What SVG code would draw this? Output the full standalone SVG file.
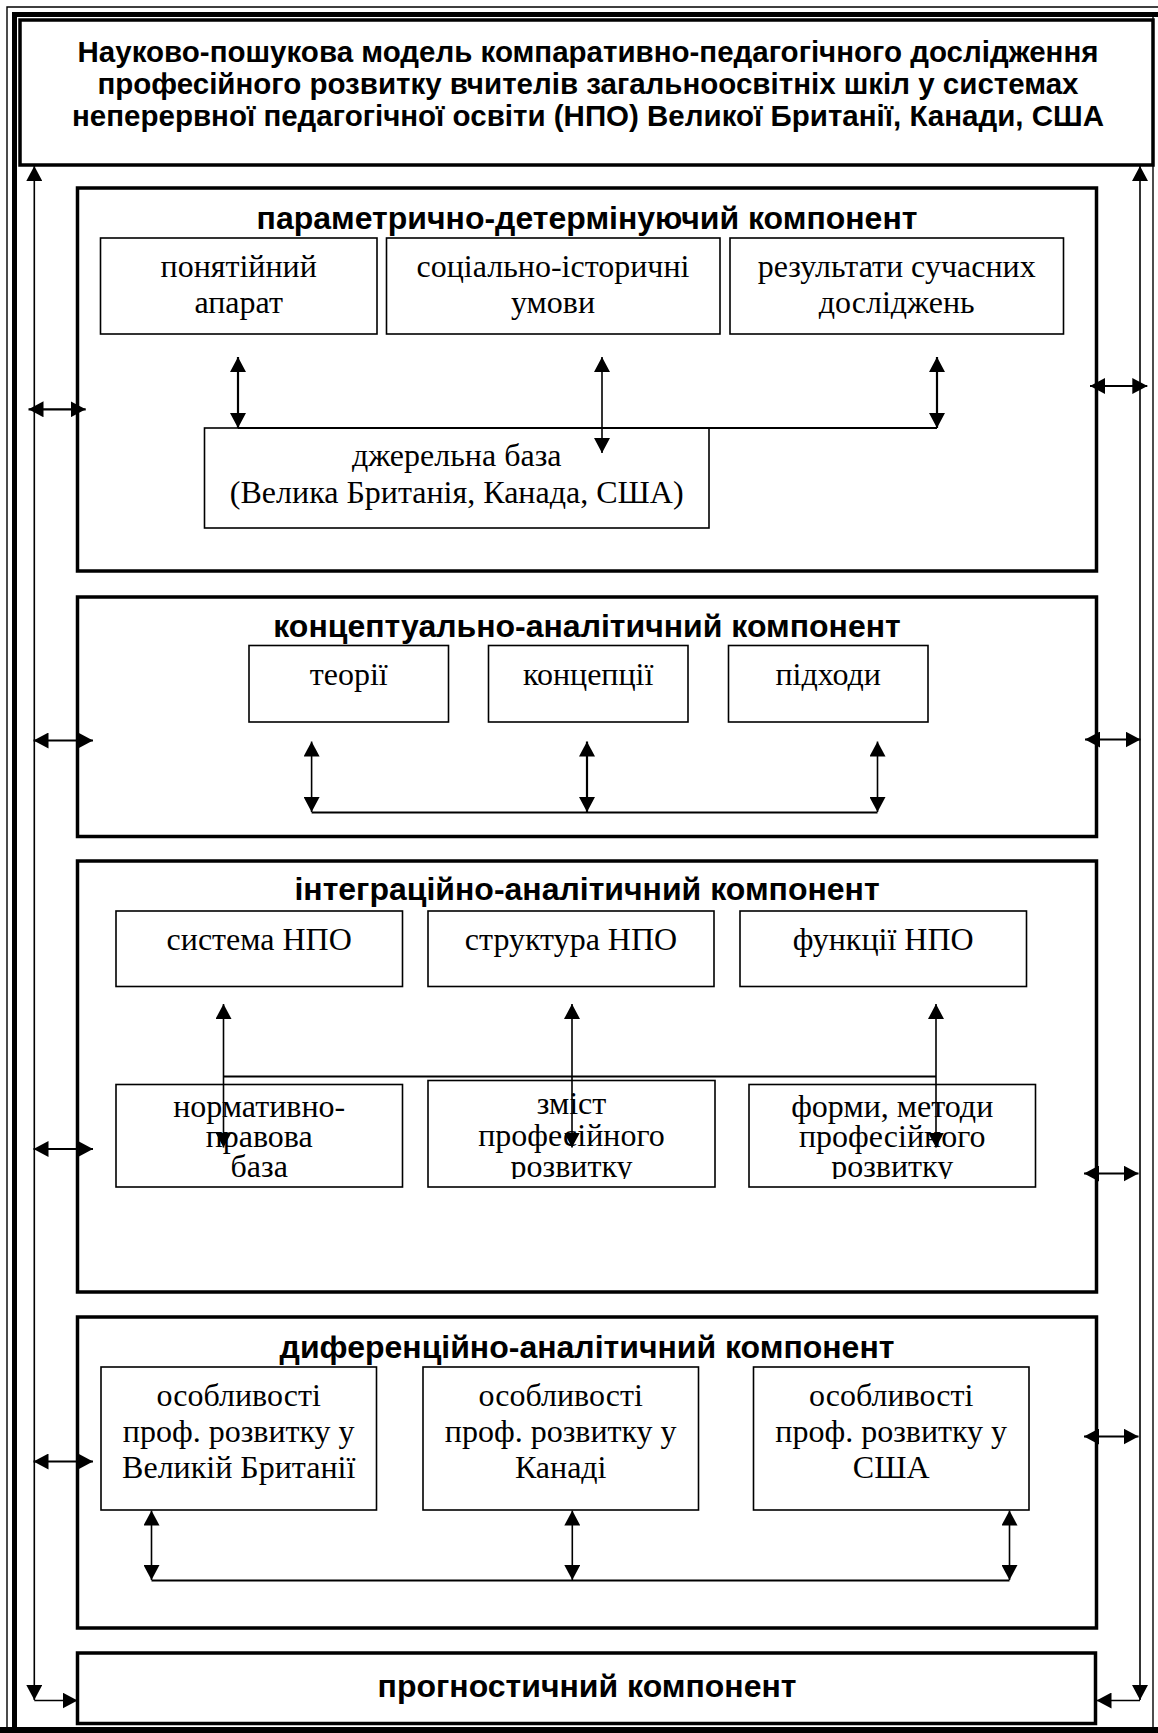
<svg xmlns="http://www.w3.org/2000/svg" width="1158" height="1733" viewBox="0 0 1158 1733">
<style>
.frame{fill:none;stroke:#000}
.comp{fill:#fff;stroke:#000;stroke-width:3.5}
.sub{fill:#fff;stroke:#000;stroke-width:1.6}
.hd{font-family:"Liberation Sans",Arial,sans-serif;font-weight:bold;font-size:32px;text-anchor:middle;fill:#000}
.tt{font-family:"Liberation Sans",Arial,sans-serif;font-weight:bold;font-size:29.5px;text-anchor:middle;fill:#000}
.tx{font-family:"Liberation Serif","Times New Roman",serif;font-size:32px;text-anchor:middle;fill:#000}
.c{fill:none;stroke:#000;stroke-width:1.6}
.c2{fill:none;stroke:#000;stroke-width:2.2}
.da{marker-start:url(#ah);marker-end:url(#ah)}
.ea{marker-end:url(#ah)}
</style>
<defs>
<marker id="ah" viewBox="0 0 15 16" refX="15" refY="8" markerWidth="15" markerHeight="16" markerUnits="userSpaceOnUse" orient="auto-start-reverse">
<path d="M0,0 L15,8 L0,16 Z" fill="#000"/>
</marker>
<clipPath id="clipB"><rect x="100" y="1078" width="950" height="101"/></clipPath>
</defs>
<rect x="0" y="0" width="1158" height="1733" fill="#fff"/>
<g id="frame">
<path class="frame" stroke-width="1.4" d="M7,1733 V7 H1158"/>
<path class="frame" stroke-width="5" d="M14.5,1733 V14.5 H1158"/>
<line class="frame" stroke-width="1.4" x1="1153" y1="17" x2="1153" y2="1727"/>
<rect x="0" y="1727" width="1158" height="6" fill="#000"/>
</g>
<g id="title">
<rect class="comp" x="20" y="20" width="1133" height="145"/>
<text class="tt" x="588" y="62">Науково-пошукова модель компаративно-педагогічного дослідження</text>
<text class="tt" x="588" y="94">професійного розвитку вчителів загальноосвітніх шкіл у системах</text>
<text class="tt" x="588" y="126">неперервної педагогічної освіти (НПО) Великої Британії, Канади, США</text>
</g>
<g id="comp1">
<rect class="comp" x="77.5" y="188" width="1019" height="383"/>
<text class="hd" x="587" y="229">параметрично-детермінуючий компонент</text>
</g>
<g id="n-ponyat">
<rect class="sub" x="100.5" y="238" width="276.5" height="96"/>
<text class="tx" x="238.7" y="277">понятійний</text>
<text class="tx" x="238.7" y="313">апарат</text>
</g>
<g id="n-social">
<rect class="sub" x="386.5" y="238" width="333.5" height="96"/>
<text class="tx" x="553" y="277">соціально-історичні</text>
<text class="tx" x="553" y="313">умови</text>
</g>
<g id="n-results">
<rect class="sub" x="730" y="238" width="333.5" height="96"/>
<text class="tx" x="896.7" y="277">результати сучасних</text>
<text class="tx" x="896.7" y="313">досліджень</text>
</g>
<g id="n-dzherelna">
<rect class="sub" x="204.5" y="428" width="504.5" height="100"/>
<text class="tx" x="456.7" y="466">джерельна база</text>
<text class="tx" x="456.7" y="503">(Велика Британія, Канада, США)</text>
</g>
<g id="comp2">
<rect class="comp" x="77.5" y="597" width="1019" height="239.5"/>
<text class="hd" x="587" y="637">концептуально-аналітичний компонент</text>
</g>
<g id="n-teorii">
<rect class="sub" x="249" y="645.5" width="199.5" height="76.5"/>
<text class="tx" x="348.7" y="685">теорії</text>
</g>
<g id="n-konc">
<rect class="sub" x="488.5" y="645.5" width="199.5" height="76.5"/>
<text class="tx" x="588.2" y="685">концепції</text>
</g>
<g id="n-pidhody">
<rect class="sub" x="728.5" y="645.5" width="199.5" height="76.5"/>
<text class="tx" x="828.2" y="685">підходи</text>
</g>
<g id="comp3">
<rect class="comp" x="77.5" y="861" width="1019" height="431"/>
<text class="hd" x="587" y="900">інтеграційно-аналітичний компонент</text>
</g>
<g id="n-systema">
<rect class="sub" x="116" y="911" width="286.5" height="75.5"/>
<text class="tx" x="259.2" y="950">система НПО</text>
</g>
<g id="n-struktura">
<rect class="sub" x="428" y="911" width="286" height="75.5"/>
<text class="tx" x="571" y="950">структура НПО</text>
</g>
<g id="n-funkcii">
<rect class="sub" x="740" y="911" width="286.5" height="75.5"/>
<text class="tx" x="883.2" y="950">функції НПО</text>
</g>
<g id="n-normat">
<rect class="sub" x="116" y="1084.5" width="286.5" height="102.5"/>
<g clip-path="url(#clipB)">
<text class="tx" x="259.2" y="1117">нормативно-</text>
<text class="tx" x="259.2" y="1147">правова</text>
<text class="tx" x="259.2" y="1177">база</text>
</g>
</g>
<g id="n-zmist">
<rect class="sub" x="428" y="1080.5" width="287" height="106.5"/>
<g clip-path="url(#clipB)">
<text class="tx" x="571.5" y="1114">зміст</text>
<text class="tx" x="571.5" y="1146">професійного</text>
<text class="tx" x="571.5" y="1177">розвитку</text>
</g>
</g>
<g id="n-formy">
<rect class="sub" x="749" y="1084.5" width="286.5" height="102.5"/>
<g clip-path="url(#clipB)">
<text class="tx" x="892.2" y="1117">форми, методи</text>
<text class="tx" x="892.2" y="1147">професійного</text>
<text class="tx" x="892.2" y="1177">розвитку</text>
</g>
</g>
<g id="comp4">
<rect class="comp" x="77.5" y="1317" width="1019" height="311"/>
<text class="hd" x="587" y="1358">диференційно-аналітичний компонент</text>
</g>
<g id="n-uk">
<rect class="sub" x="101" y="1367" width="275.5" height="143"/>
<text class="tx" x="238.7" y="1406">особливості</text>
<text class="tx" x="238.7" y="1442">проф. розвитку у</text>
<text class="tx" x="238.7" y="1478">Великій Британії</text>
</g>
<g id="n-canada">
<rect class="sub" x="423" y="1367" width="275.5" height="143"/>
<text class="tx" x="560.7" y="1406">особливості</text>
<text class="tx" x="560.7" y="1442">проф. розвитку у</text>
<text class="tx" x="560.7" y="1478">Канаді</text>
</g>
<g id="n-usa">
<rect class="sub" x="753.5" y="1367" width="275.5" height="143"/>
<text class="tx" x="891.2" y="1406">особливості</text>
<text class="tx" x="891.2" y="1442">проф. розвитку у</text>
<text class="tx" x="891.2" y="1478">США</text>
</g>
<g id="comp5">
<rect class="comp" x="77.5" y="1653" width="1018" height="70.5"/>
<text class="hd" x="587" y="1697">прогностичний компонент</text>
</g>
<g id="connectors">
<line class="c2 da" x1="238" y1="357" x2="238" y2="428"/>
<line class="c da" x1="602" y1="357" x2="602" y2="453"/>
<line class="c2 da" x1="937" y1="357" x2="937" y2="428"/>
<line class="c2" x1="238" y1="428" x2="937" y2="428"/>
<line class="c da" x1="311.6" y1="741.5" x2="311.6" y2="812"/>
<line class="c2 da" x1="587" y1="741.5" x2="587" y2="812"/>
<line class="c da" x1="877.5" y1="741.5" x2="877.5" y2="812"/>
<line class="c2" x1="311.6" y1="812.5" x2="877.5" y2="812.5"/>
<line class="c da" x1="223.5" y1="1004" x2="223.5" y2="1147.5"/>
<line class="c da" x1="572" y1="1004" x2="572" y2="1147.5"/>
<line class="c da" x1="936" y1="1004" x2="936" y2="1147.5"/>
<line class="c2" x1="223.5" y1="1076.5" x2="936" y2="1076.5"/>
<line class="c da" x1="151.5" y1="1510.5" x2="151.5" y2="1580"/>
<line class="c da" x1="572.3" y1="1510.5" x2="572.3" y2="1580"/>
<line class="c da" x1="1009.5" y1="1510.5" x2="1009.5" y2="1580"/>
<line class="c2" x1="151.5" y1="1580.5" x2="1009.5" y2="1580.5"/>
<line class="c da" x1="34.3" y1="166" x2="34.3" y2="1700"/>
<line class="c ea" x1="34.3" y1="1700.5" x2="77.5" y2="1700.5"/>
<line class="c da" x1="1140" y1="166" x2="1140" y2="1700"/>
<line class="c ea" x1="1140" y1="1700.5" x2="1096.5" y2="1700.5"/>
<line class="c2 da" x1="28.5" y1="409.3" x2="85.7" y2="409.3"/>
<line class="c2 da" x1="33.5" y1="740.5" x2="93" y2="740.5"/>
<line class="c2 da" x1="33.5" y1="1149" x2="93" y2="1149"/>
<line class="c2 da" x1="33.5" y1="1461.5" x2="93" y2="1461.5"/>
<line class="c2 da" x1="1090" y1="386" x2="1147.3" y2="386"/>
<line class="c2 da" x1="1085" y1="739.5" x2="1140.5" y2="739.5"/>
<line class="c2 da" x1="1084" y1="1173.5" x2="1138.5" y2="1173.5"/>
<line class="c2 da" x1="1084" y1="1436.5" x2="1138.5" y2="1436.5"/>
</g>
</svg>
